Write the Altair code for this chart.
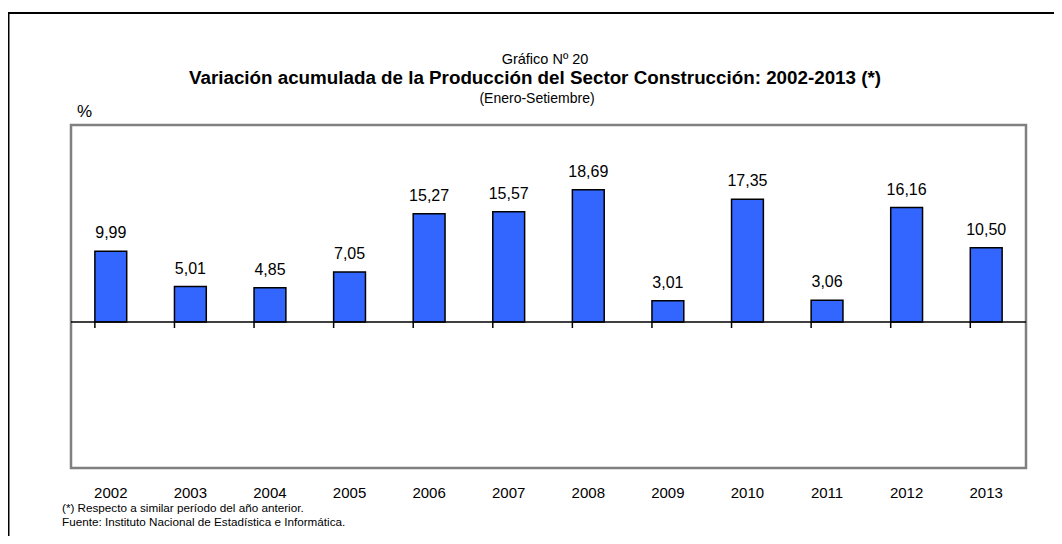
import altair as alt
import pandas as pd

years = ["2002", "2003", "2004", "2005", "2006", "2007", "2008", "2009", "2010", "2011", "2012", "2013"]
values = [9.99, 5.01, 4.85, 7.05, 15.27, 15.57, 18.69, 3.01, 17.35, 3.06, 16.16, 10.50]
labels = [f"{v:.2f}".replace(".", ",") for v in values]

title_top = "Gráfico Nº  20"
title_main = "Variación acumulada de la Producción del Sector Construcción: 2002-2013 (*)"
title_sub = "(Enero-Setiembre)"
unit = "%"
note1 = "(*) Respecto a similar período del año anterior."
note2 = "Fuente: Instituto Nacional de Estadística e Informática."

df = pd.DataFrame({"year": years, "value": values, "label": labels})
one = pd.DataFrame({"k": [0]})

SANS = "'Liberation Sans', Arial, sans-serif"

W, H = 955, 343
ydom = [-20.62, 27.82]

xenc = alt.X("year:N", sort=years, title=None,
             scale=alt.Scale(paddingInner=0.6, paddingOuter=0.3),
             axis=alt.Axis(domain=False, ticks=False, labelFont=SANS, labelFontSize=15,
                           labelColor="black", labelPadding=29, labelBaseline="alphabetic",
                           labelAngle=0))
yenc = alt.Y("value:Q", scale=alt.Scale(domain=ydom, nice=False, zero=False), axis=None)

base = alt.Chart(df)
single = alt.Chart(one)

bars = base.mark_bar(color="#3366FF", stroke="black", strokeWidth=1.5).encode(x=xenc, y=yenc, y2=alt.datum(0))

texts = base.mark_text(font=SANS, fontSize=16, color="black", baseline="alphabetic", dy=-13).encode(
    x=alt.X("year:N", sort=years), y=alt.Y("value:Q"), text="label:N")

zero = single.mark_rule(color="black", strokeWidth=1.5).encode(
    x=alt.value(0), x2=alt.value(W), y=alt.datum(0))

ticks = base.mark_rule(color="black", strokeWidth=1.5).encode(
    x=alt.X("year:N", sort=years, bandPosition=0), y=alt.datum(0), y2=alt.value(203))

frame_left = single.mark_rule(color="black", strokeWidth=2).encode(
    x=alt.value(-62.5), y=alt.value(-113), y2=alt.value(420))
frame_top = single.mark_rule(color="black", strokeWidth=2).encode(
    x=alt.value(-63.5), x2=alt.value(1000), y=alt.value(-112))

def txt(s, x, y, size, weight="normal", align="center"):
    return single.mark_text(text=s, font=SANS, fontSize=size, fontWeight=weight, align=align,
                            baseline="alphabetic", color="black").encode(x=alt.value(x), y=alt.value(y))

t1 = txt(title_top, 474, 64 - 125, 14.5)
t2 = txt(title_main, 464, 84 - 125, 18.8, weight="bold")
t3 = txt(title_sub, 466, 103 - 125, 14)
t4 = txt(unit, 6, 117 - 125, 17, align="left")
n1 = txt(note1, -9, 512 - 125, 11.7, align="left")
n2 = txt(note2, -9, 526 - 125, 11.7, align="left")

chart = alt.layer(bars, zero, ticks, texts, frame_left, frame_top, t1, t2, t3, t4, n1, n2).properties(
    width=W, height=H,
    autosize=alt.AutoSizeParams(type="none"),
    padding={"left": 63, "top": 117, "right": 28, "bottom": 68},
).configure(background="white").configure_view(stroke="#808080", strokeWidth=2.5)

chart.save("out.html", embed_options={"renderer": "svg", "actions": False})
